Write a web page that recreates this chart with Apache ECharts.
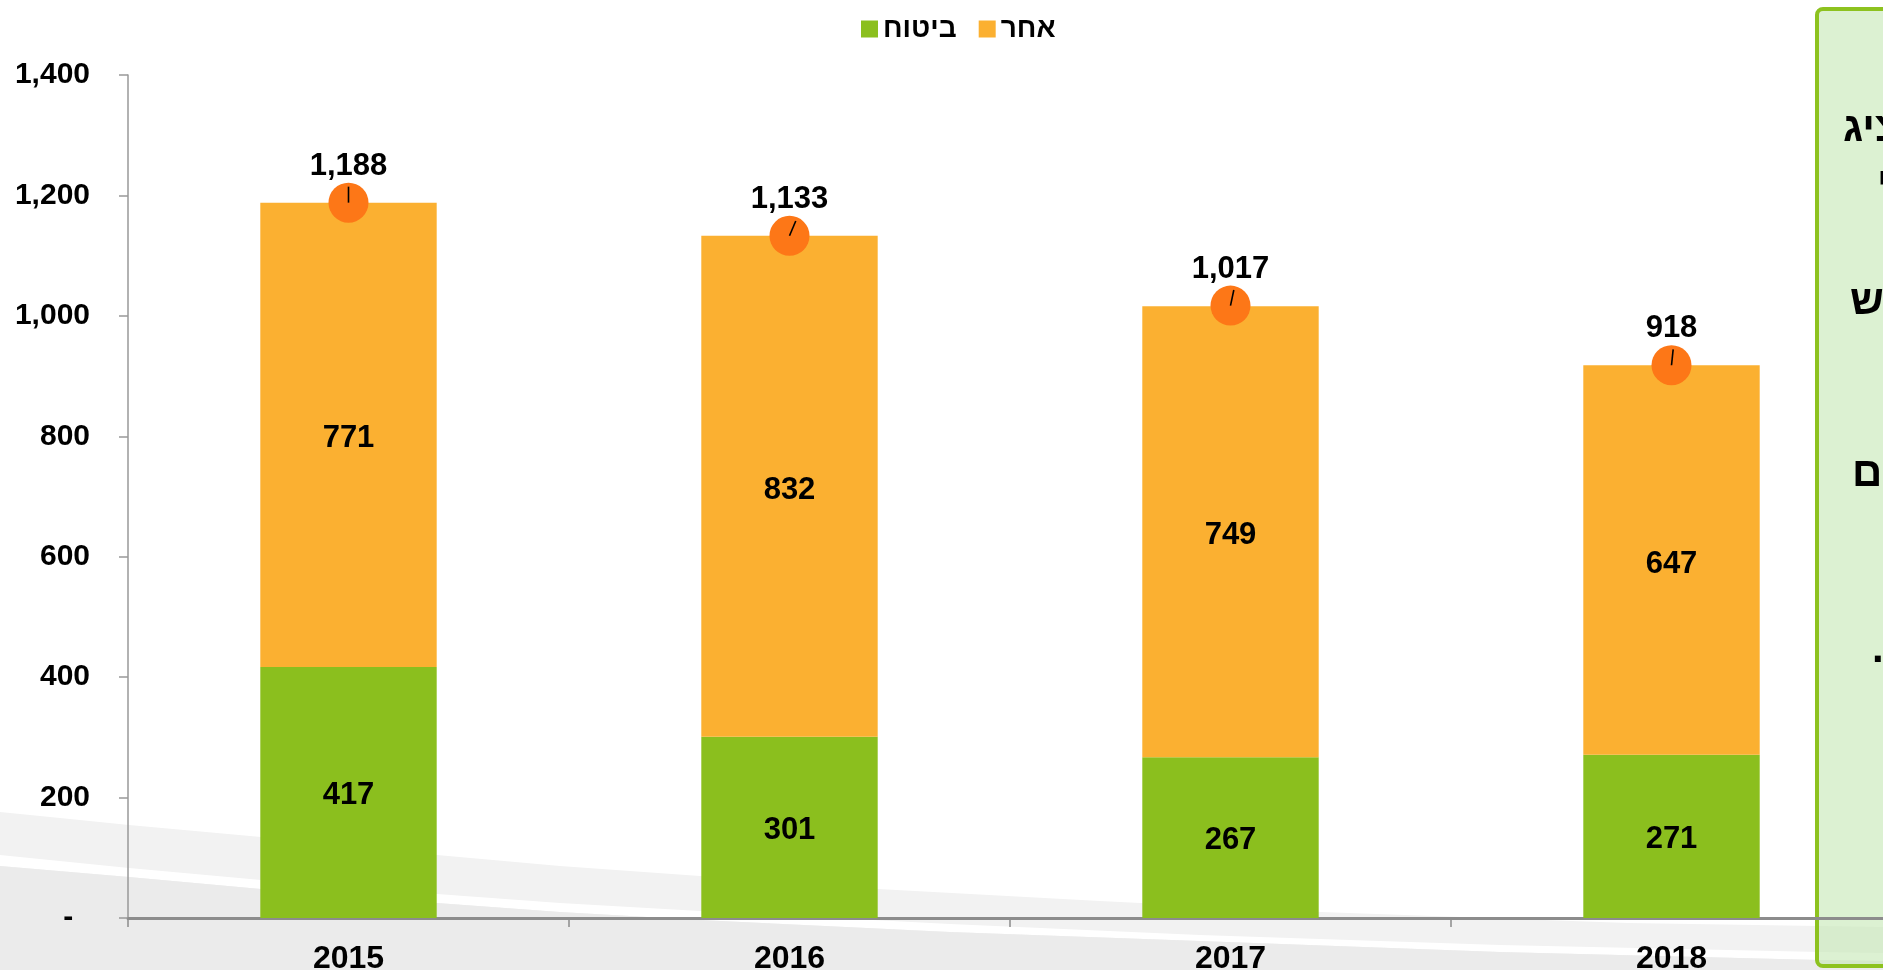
<!DOCTYPE html>
<html>
<head>
<meta charset="utf-8">
<script src="https://cdn.jsdelivr.net/npm/echarts@6/dist/echarts.min.js"></script>
<style>
html,body{margin:0;padding:0;background:#fff;}
#chart{width:1883px;height:970px;}
</style>
</head>
<body>
<div id="chart"></div>
<script>
const categories = ['2015', '2016', '2017', '2018'];
const insurance = [417, 301, 267, 271];
const other = [771, 832, 749, 647];
const totals = [1188, 1133, 1017, 918];
const needleAngles = [0, 23, 12, 6];
const seriesNames = ['ביטוח', 'אחר'];

const FONT = "'Liberation Sans', Arial, sans-serif";
const fmt = v => Number(v).toLocaleString('en-US');

const chart = echarts.init(document.getElementById('chart'), null, {renderer: 'canvas'});

const lightTop = [[0,812],[60,818],[129,825],[195,831],[261,837],[350,846],[437,855],[560,866],[700,876],[878,889],[1100,901],[1321,912],[1628,923],[1883,927]];
const stripeTop = [[0,855],[129,868],[261,880],[437,894],[560,903],[700,911],[950,924],[1200,935],[1500,945],[1820,952],[1883,953]];
const stripeBot = [[0,866],[129,877],[261,889],[437,903],[560,912],[700,920],[950,932],[1200,941],[1500,952],[1820,960],[1883,961]];

const option = {
  backgroundColor: '#ffffff',
  textStyle: {fontFamily: FONT},
  animation: false,
  legend: {
    data: seriesNames,
    left: 856,
    top: 10,
    itemWidth: 17,
    itemHeight: 17,
    itemGap: 22,
    icon: 'rect',
    textStyle: {fontFamily: FONT, fontSize: 28, fontWeight: 'bold', color: '#000'}
  },
  grid: {left: 128, top: 75, bottom: 52, width: 1764, containLabel: false, outerBoundsMode: 'none'},
  xAxis: {
    type: 'category',
    data: categories,
    boundaryGap: true,
    axisLine: {show: true, lineStyle: {color: '#8c8c8c', width: 3}},
    axisTick: {show: true, length: 9, lineStyle: {color: '#8c8c8c', width: 1.5}},
    axisLabel: {margin: 25, fontFamily: FONT, fontSize: 32, fontWeight: 'bold', color: '#000'},
    splitLine: {show: false}
  },
  yAxis: {
    type: 'value',
    min: 0,
    max: 1400,
    interval: 200,
    axisLine: {show: true, lineStyle: {color: '#999', width: 1.5}},
    axisTick: {show: true, length: 9, lineStyle: {color: '#999', width: 1.5}},
    axisLabel: {
      margin: 38, fontFamily: FONT, fontSize: 30, fontWeight: 'bold', color: '#000',
      formatter: v => v === 0 ? '-  ' : fmt(v)
    },
    splitLine: {show: false}
  },
  graphic: [
    {type: 'polygon', z: -10, shape: {points: lightTop.concat([[1883,970],[0,970]])}, style: {fill: '#f2f2f2'}},
    {type: 'polygon', z: -9, shape: {points: stripeTop.concat(stripeBot.slice().reverse())}, style: {fill: '#ffffff'}},
    {type: 'polygon', z: -8, shape: {points: stripeBot.concat([[1883,970],[0,970]])}, style: {fill: '#ebebeb'}},
    {type: 'rect', z: -5, shape: {x: 1817, y: 9, width: 120, height: 957, r: 6},
      style: {fill: 'rgba(196,232,180,0.6)', stroke: '#8dc21f', lineWidth: 4}},
    {type: 'text', z: -4, x: 1843, y: 129, style: {text: 'הציג', font: 'bold 42px ' + FONT, fill: '#000', textAlign: 'left', textVerticalAlign: 'middle'}},
    {type: 'text', z: -4, x: 1877, y: 184, style: {text: 'י', font: 'bold 42px ' + FONT, fill: '#000', textAlign: 'left', textVerticalAlign: 'middle'}},
    {type: 'text', z: -4, x: 1850, y: 302, style: {text: 'ש', font: 'bold 42px ' + FONT, fill: '#000', textAlign: 'left', textVerticalAlign: 'middle'}},
    {type: 'text', z: -4, x: 1852, y: 474, style: {text: 'ם', font: 'bold 42px ' + FONT, fill: '#000', textAlign: 'left', textVerticalAlign: 'middle'}},
    {type: 'text', z: -4, x: 1872, y: 650, style: {text: '.', font: 'bold 42px ' + FONT, fill: '#000', textAlign: 'left', textVerticalAlign: 'middle'}}
  ],
  series: [
    {
      name: seriesNames[0], type: 'bar', stack: 'total', barWidth: '40%',
      data: insurance,
      itemStyle: {color: '#8bbf1e'},
      label: {show: true, position: 'inside', offset: [0, 3], fontFamily: FONT, fontSize: 31, fontWeight: 'bold', color: '#000', formatter: p => fmt(p.value)}
    },
    {
      name: seriesNames[1], type: 'bar', stack: 'total', barWidth: '40%',
      data: other,
      itemStyle: {color: '#fbb031'},
      label: {show: true, position: 'inside', offset: [0, 4], fontFamily: FONT, fontSize: 31, fontWeight: 'bold', color: '#000', formatter: p => fmt(p.value)}
    },
    {
      name: 'total', type: 'scatter', z: 5,
      data: totals,
      symbol: 'circle', symbolSize: 40,
      itemStyle: {color: '#fd7717', opacity: 1},
      label: {show: true, position: 'top', distance: 1, fontFamily: FONT, fontSize: 31, fontWeight: 'bold', color: '#000', formatter: p => fmt(p.value)}
    },
    {
      name: 'needle', type: 'custom', z: 6,
      data: categories.map((c, i) => [i, totals[i], needleAngles[i]]),
      encode: {x: 0, y: 1},
      renderItem: function (params, api) {
        const p = api.coord([api.value(0), api.value(1)]);
        const a = api.value(2) * Math.PI / 180;
        const L = 16;
        return {
          type: 'line',
          shape: {x1: p[0], y1: p[1], x2: p[0] + L * Math.sin(a), y2: p[1] - L * Math.cos(a)},
          style: {stroke: '#000', lineWidth: 1.6}
        };
      }
    }
  ]
};
chart.setOption(option);
</script>
</body>
</html>
